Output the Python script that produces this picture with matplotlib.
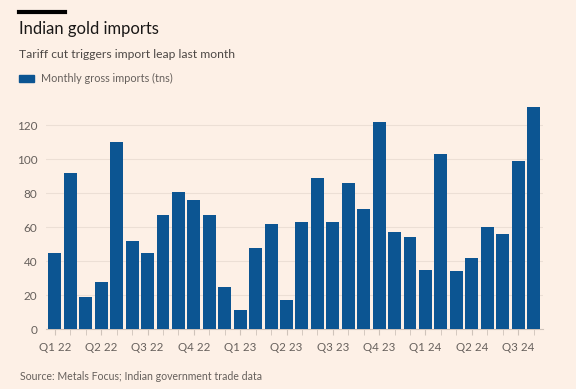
"""Indian gold imports: monthly gross imports, FT-style bar chart."""
import matplotlib
matplotlib.use("Agg")
import matplotlib.pyplot as plt
import numpy as np

# Jan 2022 .. Aug 2024, tonnes
imports = [45, 92, 19, 28, 110, 52, 45, 67, 81, 76, 67, 25,
           11, 48, 62, 17, 63, 89, 63, 86, 71, 122, 57, 54,
           35, 103, 34, 42, 60, 56, 99, 131]
quarter_labels = ["Q1 22", "Q2 22", "Q3 22", "Q4 22", "Q1 23", "Q2 23",
                  "Q3 23", "Q4 23", "Q1 24", "Q2 24", "Q3 24"]
y_ticks = [0, 20, 40, 60, 80, 100, 120]

BG = "#fdf0e6"
BAR = "#0c5592"
GRID = "#ecdfd5"
TEXT = "#66605c"

plt.rcParams["font.family"] = ["Lato", "DejaVu Sans"]

fig = plt.figure(figsize=(5.76, 3.89), dpi=100, facecolor=BG)
ax = fig.add_axes([0.0793, 0.154, 0.863, 0.576], facecolor=BG)

x = np.arange(len(imports))
ax.bar(x, imports, width=0.84, color=BAR, zorder=3)

ax.set_xlim(-0.6, len(imports) - 0.4)
ax.set_ylim(0, 132)
ax.set_yticks(y_ticks)
ax.set_yticklabels([str(v) for v in y_ticks])
ax.yaxis.grid(True, color=GRID, linewidth=0.8, zorder=0)
ax.set_xticks(x, minor=True)
ax.set_xticks(x[::3])
ax.set_xticklabels(quarter_labels)
ax.tick_params(axis="y", length=0, pad=6, labelsize=8.5, labelcolor=TEXT)
ax.tick_params(axis="x", which="major", length=4, color="#cfc3ba", pad=5,
               labelsize=8.3, labelcolor=TEXT)
ax.tick_params(axis="x", which="minor", length=4, color="#cfc3ba")
for side in ["top", "right", "left"]:
    ax.spines[side].set_visible(False)
ax.spines["bottom"].set_color("#cfc3ba")
ax.spines["bottom"].set_linewidth(0.8)

# header
fig.add_artist(plt.Line2D([19 / 576, 65 / 576], [1 - 11.5 / 389] * 2,
                          color="black", linewidth=3, transform=fig.transFigure))
fig.text(19 / 576, 1 - 29 / 389, "Indian gold imports", fontsize=12,
         color="#1a1817", va="center", ha="left")
fig.text(19 / 576, 1 - 54 / 389, "Tariff cut triggers import leap last month",
         fontsize=8.7, color="#4d4845", va="center", ha="left")
fig.add_artist(plt.Rectangle((19 / 576, 1 - 81.5 / 389), 15 / 576, 6.5 / 389,
                             color=BAR, transform=fig.transFigure))
fig.text(41 / 576, 1 - 78 / 389, "Monthly gross imports (tns)", fontsize=7.8,
         color=TEXT, va="center", ha="left")
fig.text(20 / 576, 1 - 377 / 389, "Source: Metals Focus; Indian government trade data",
         fontsize=7.6, color=TEXT, va="center", ha="left")

fig.savefig("out.png", dpi=100, facecolor=BG)
